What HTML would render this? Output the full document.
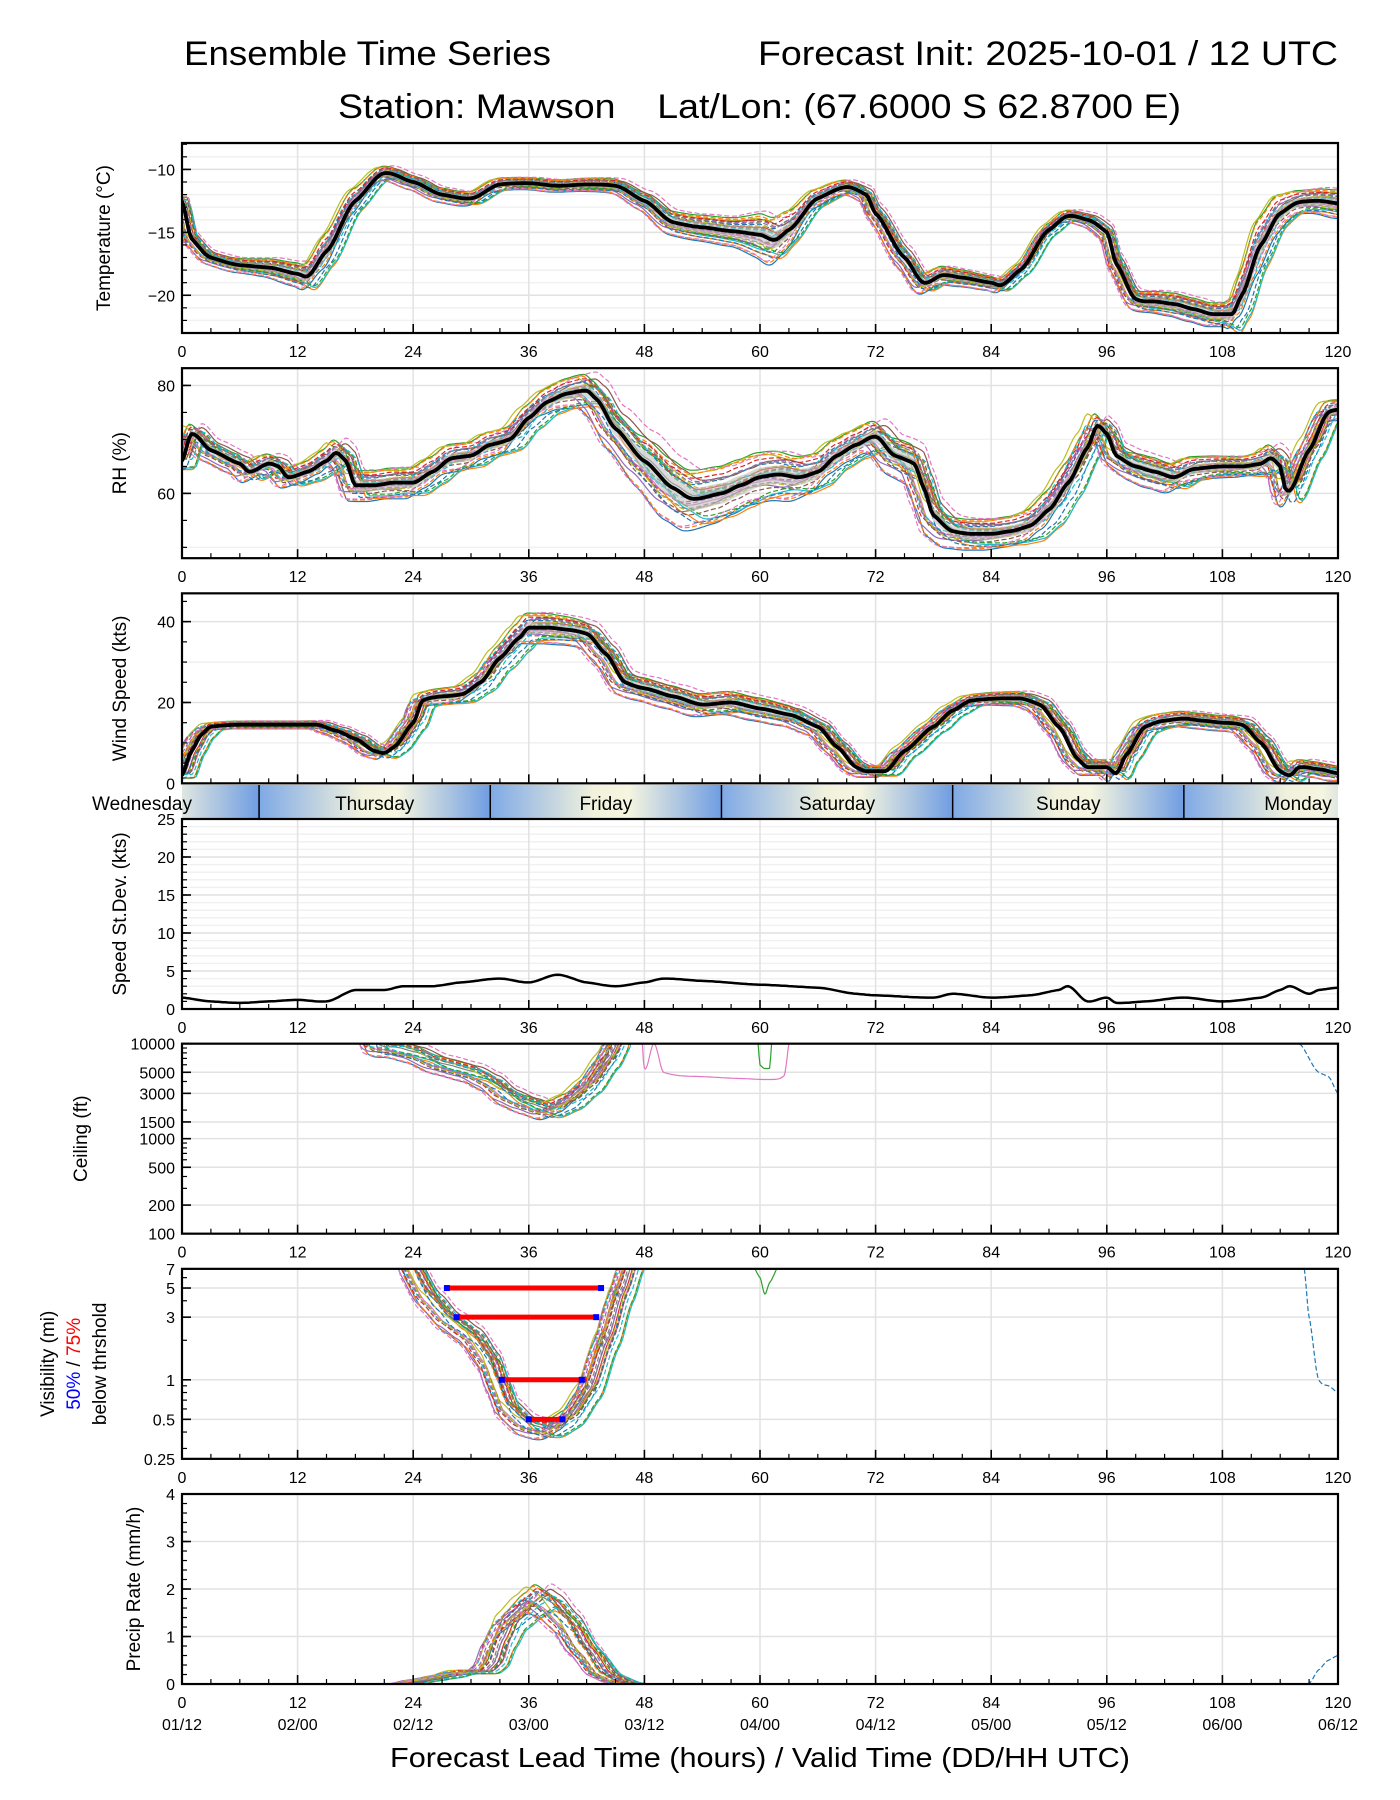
<!DOCTYPE html>
<html><head><meta charset="utf-8"><style>
html,body{margin:0;padding:0;background:#fff;}
svg{display:block;font-family:"Liberation Sans","DejaVu Sans",sans-serif;}
</style></head><body>
<svg id="c" width="1400" height="1800" viewBox="0 0 1400 1800">
<text x="184" y="65" font-size="34" textLength="367" lengthAdjust="spacingAndGlyphs">Ensemble Time Series</text>
<text x="1338" y="65" font-size="34" text-anchor="end" textLength="580" lengthAdjust="spacingAndGlyphs">Forecast Init: 2025-10-01 / 12 UTC</text>
<text x="338" y="118" font-size="34" textLength="843" lengthAdjust="spacingAndGlyphs" xml:space="preserve">Station: Mawson    Lat/Lon: (67.6000 S 62.8700 E)</text>
<text x="760" y="1767" font-size="28" text-anchor="middle" textLength="740" lengthAdjust="spacingAndGlyphs">Forecast Lead Time (hours) / Valid Time (DD/HH UTC)</text>
</svg>
<script>
// ---------------- data ----------------
const tempMean=[[0,-12.5],[1,-15.5],[3,-17],[6,-17.6],[9,-17.8],[12,-18.3],[13,-18.5],[15,-16.5],[18,-12.5],[21,-10.3],[24,-11],[27,-12],[30,-12.3],[33,-11.2],[36,-11.1],[39,-11.3],[42,-11.2],[45,-11.3],[48,-12.5],[51,-14.2],[54,-14.6],[57,-14.9],[60,-15.2],[61.5,-15.6],[63,-14.8],[66,-12.3],[69,-11.4],[71,-12],[72,-13.5],[75,-17],[77,-19],[79,-18.4],[81,-18.6],[84,-19],[85,-19.2],[87,-18],[90,-14.8],[92,-13.7],[94,-14],[96,-15],[97,-17.5],[99,-20.3],[101,-20.5],[103,-20.7],[105,-21.1],[107,-21.5],[109,-21.5],[110,-20],[112,-16],[114,-13.5],[116,-12.6],[118,-12.5],[120,-12.7]];
const tempSpread=[[0,0.5],[6,0.6],[12,1],[15,1.5],[21,0.6],[30,0.6],[36,0.5],[45,0.6],[51,1],[57,1.2],[61,2],[66,0.8],[70,0.6],[75,1],[78,0.8],[84,0.6],[92,0.5],[98,0.8],[104,1],[108,1],[111,2.5],[116,1],[120,1.2]];
const rhMean=[[0,66],[1,71],[3,68],[6,65.5],[7,64],[9,65.5],[10,65],[11,63],[13,64],[15,66],[16,67.5],[17,66],[18,61.5],[20,61.5],[22,62],[24,62],[26,64],[28,66.5],[30,67],[32,69],[34,70],[36,74],[38,77],[40,78.5],[42,79],[43,77.5],[45,72],[48,66],[51,61],[53,59],[56,60],[58,61.5],[60,63],[62,63.5],[64,63],[66,64],[68,67],[70,69],[72,70.5],[74,67],[76,65.5],[77,61],[78,56],[80,53],[82,52.5],[84,52.5],[86,53],[88,54],[90,57],[92,62],[94,68.5],[95,72.5],[96,71],[97,67],[99,65],[101,64],[103,63],[105,64.5],[108,65],[110,65],[112,65.5],[113,66.5],[114,65],[114.5,61],[115,60.5],[117,68],[119,75],[120,75.5]];
const rhSpread=[[0,2],[12,2],[18,3],[24,3],[36,2.5],[45,4],[50,6],[60,5],[70,3],[76,4],[80,3],[86,3],[92,4],[96,2],[100,3],[110,2],[114,3],[120,2]];
const windMean=[[0,2],[1,8],[2,12],[3,14],[6,14.5],[9,14.5],[12,14.5],[14,14.5],[16,13],[18,11],[20,8],[21,7.5],[22,9],[24,15],[25,20.5],[27,21.5],[29,22],[31,25],[33,31],[35,36],[36,38.5],[38,38.5],[40,38],[42,37],[44,32],[46,25],[48,23.5],[51,21.5],[54,19.5],[57,20],[60,18.5],[63,17],[66,14],[68,9],[70,4],[71,3],[73,3],[75,8],[78,14],[80,18],[82,20.5],[85,21],[87,21],[89,19.5],[91,14],[93,6],[94,4],[96,4],[97,2.5],[98,7],[100,14],[102,15.5],[104,16],[106,15.5],[108,15],[110,14.5],[112,10],[114,3],[115,2],[116,4],[118,3.5],[120,2.5]];
const windSpread=[[0,1],[12,1],[20,1.5],[30,2.5],[36,4],[45,3],[50,3],[60,3],[70,1.5],[80,1.5],[90,2],[96,2],[100,2],[110,2],[114,2],[120,2]];
const stdMean=[[0,1.5],[3,1],[6,0.8],[9,1],[12,1.2],[15,1],[18,2.5],[21,2.5],[23,3],[26,3],[29,3.5],[33,4],[36,3.5],[39,4.5],[42,3.5],[45,3],[48,3.5],[50,4],[54,3.7],[60,3.2],[66,2.8],[70,2],[72,1.8],[78,1.5],[80,2],[84,1.5],[88,1.8],[91,2.5],[92,3],[94,1],[96,1.5],[97,0.8],[100,1],[104,1.5],[108,1],[112,1.5],[114,2.5],[115,3],[117,2],[118,2.5],[120,2.8]];
const ceilMean=[[0,30000],[19,30000],[20,10000],[22,9000],[24,8000],[27,6000],[30,5000],[32,4000],[34,2800],[36,2300],[38,2000],[40,2400],[42,3500],[44,6500],[45,10000],[46,30000],[120,30000]];
const ceilPink=[[47.5,30000],[48,5500],[49,10000],[50,5000],[54,4500],[58,4300],[61,4200],[62.5,4600],[63,10000],[63.2,30000]];
const ceilGreen=[[59.5,30000],[59.8,10000],[60,6000],[61,5500],[61.2,10000],[61.5,30000]];
const ceilBlue=[[116,10000],[118,5000],[119,4500],[120,3000]];
const visMean=[[0,20],[23,20],[24,7],[26,4],[28,2.8],[30,2.2],[32,1.4],[33,0.9],[34,0.6],[36,0.45],[38,0.42],[40,0.5],[42,0.8],[44,2],[45.5,4.5],[46.5,7.5],[47.5,20],[120,20]];
const visGreen=[[59,8],[60,6],[60.5,4.5],[61,5.5],[62,7.5]];
const visBlue=[[116.5,7],[117,3],[118,1],[119,0.9],[120,0.8]];
const thrVals=[5,3,1,0.5];
const thrStart75=[27.5,28.5,33,36];
const thrEnd75=[43.5,43,42,39.5];
const thrStart50=[27.5,28.5,33.2,36];
const thrEnd50=[43.5,43,41.5,39.5];
const precipMean=[[0,0],[23,0],[25,0.08],[27,0.15],[29,0.25],[31,0.25],[32,0.4],[33,0.9],[34,1.3],[36,1.65],[37,1.8],[38,1.7],[40,1.3],[42,0.7],[44,0.2],[46,0.02],[47,0],[120,0]];
const precipBlue=[[116,0],[117,0.02],[118,0.3],[119,0.5],[120,0.6]];
const memberW=[-1,-0.8,0.9,0.3,-0.4,0.6,-0.2,0.1,0.75,-0.65,0.45,-0.9,0.2,-0.1,0.55,-0.5,0.95,-0.3,0.35,0.05,-0.75,0.8,-0.55,0.65,-0.15,0.25,-0.85,0.5,-0.35,0.15];
const memberShift=[0.8,-1.2,0.3,-0.5,1.4,-0.9,0.6,-0.2,1.0,-1.4,0.2,0.9,-0.7,1.2,-0.3,0.5,-1.0,0.7,-0.6,1.1,-0.4,0.4,-1.3,0.1,0.9,-0.8,1.3,-0.1,0.6,-1.1];
const xTicks=[0,12,24,36,48,60,72,84,96,108,120];
const dateLabels=["01/12","02/00","02/12","03/00","03/12","04/00","04/12","05/00","05/12","06/00","06/12"];
const dayNames=["Wednesday","Thursday","Friday","Saturday","Sunday","Monday"];
const dayBounds=[-16,8,32,56,80,104,128];
// ---------------- helpers ----------------
const NS="http://www.w3.org/2000/svg";
const svg=document.getElementById('c');
const colors=["#1f77b4","#ff7f0e","#2ca02c","#d62728","#9467bd","#8c564b","#e377c2","#7f7f7f","#bcbd22","#17becf"];
const X0=182,X1=1338,PH=190;
function xS(h){return X0+h*(X1-X0)/120;}
function mk(tag,attrs,parent){const e=document.createElementNS(NS,tag);for(const k in attrs)e.setAttribute(k,attrs[k]);(parent||svg).appendChild(e);return e;}
function interp(pts,t,log){
  if(t<=pts[0][0])return pts[0][1];
  if(t>=pts[pts.length-1][0])return pts[pts.length-1][1];
  let i=0;while(pts[i+1][0]<t)i++;
  const f=log?(v=>Math.log10(v)):(v=>v);
  const g=log?(v=>Math.pow(10,v)):(v=>v);
  const p0=pts[Math.max(i-1,0)],p1=pts[i],p2=pts[i+1],p3=pts[Math.min(i+2,pts.length-1)];
  const u=(t-p1[0])/(p2[0]-p1[0]);
  const y1=f(p1[1]),y2=f(p2[1]);
  const m1=(f(p2[1])-f(p0[1]))/((p2[0]-p0[0])||1)*(p2[0]-p1[0]);
  const m2=(f(p3[1])-f(p1[1]))/((p3[0]-p1[0])||1)*(p2[0]-p1[0]);
  const u2=u*u,u3=u2*u;
  let v=(2*u3-3*u2+1)*y1+(u3-2*u2+u)*m1*0.5+(-2*u3+3*u2)*y2+(u3-u2)*m2*0.5;
  const lo=Math.min(y1,y2),hi=Math.max(y1,y2);v=Math.max(lo-0.05*(hi-lo+1e-9),Math.min(hi+0.05*(hi-lo+1e-9),v));
  return g(v);
}
function panel(i,name){
  const top=143+i*225.17;return {top,bot:top+PH,name};
}
function setup(p,yMin,yMax,log,major,minor,gridMinor,labels,showX){
  const g=mk('g',{});
  
  
  const tf=v=>log?Math.log10(v):v;
  p.y=v=>p.bot-(tf(v)-tf(yMin))/(tf(yMax)-tf(yMin))*PH;
  const cid='clip-'+p.name;
  const cp=mk('clipPath',{id:cid},g);mk('rect',{x:X0,y:p.top,width:X1-X0,height:PH},cp);
  (gridMinor||[]).forEach(v=>mk('line',{x1:X0,x2:X1,y1:p.y(v),y2:p.y(v),stroke:'#f1f1f1','stroke-width':1.5},g));
  xTicks.forEach(h=>mk('line',{x1:xS(h),x2:xS(h),y1:p.top,y2:p.bot,stroke:'#e2e2e2','stroke-width':1.5},g));
  major.forEach(v=>mk('line',{x1:X0,x2:X1,y1:p.y(v),y2:p.y(v),stroke:'#e2e2e2','stroke-width':1.5},g));
  p.g=mk('g',{'clip-path':'url(#'+cid+')'},g);
  p.axis=g;
  p.finish=function(){
    const a=mk('g',{},g);
    
    
    for(let h=0;h<=120;h+=3){const mj=h%12===0;mk('line',{x1:xS(h),x2:xS(h),y1:p.bot,y2:p.bot-(mj?9:5),stroke:'#000','stroke-width':mj?1.6:1.2},a);}
    (minor||[]).forEach(v=>mk('line',{x1:X0,x2:X0+5,y1:p.y(v),y2:p.y(v),stroke:'#000','stroke-width':1.2},a));
    major.forEach((v,k)=>{mk('line',{x1:X0,x2:X0+9,y1:p.y(v),y2:p.y(v),stroke:'#000','stroke-width':1.6},a);
      const t=mk('text',{x:X0-7,y:p.y(v)+6,'font-size':16,'text-anchor':'end'},a);t.textContent=labels?labels[k]:(v<0?'\u2212'+(-v):String(v));
      
      });
    mk('rect',{x:X0,y:p.top,width:X1-X0,height:PH,fill:'none',stroke:'#000','stroke-width':2.2},a);
    if(showX)xTicks.forEach(h=>{const t=mk('text',{x:xS(h),y:p.bot+24,'font-size':16,'text-anchor':'middle'},a);t.textContent=h;
      
      });
  };
}
function ylabel(p,x,txt,name){
  const t=mk('text',{x:x,y:(p.top+p.bot)/2,'font-size':19,'text-anchor':'middle',transform:`rotate(-90 ${x} ${(p.top+p.bot)/2})`});
  t.textContent=txt;
  
  
  return t;
}
function pathFrom(p,fn,t0,t1,step){
  let d='';for(let t=t0;t<=t1+1e-9;t+=step){const v=fn(t);d+=(d?'L':'M')+xS(t).toFixed(1)+','+p.y(v).toFixed(1);}return d;
}
function members(p,valFn,t0,t1){
  memberW.forEach((w,m)=>{
    const e=mk('path',{d:pathFrom(p,t=>valFn(t,w,memberShift[m]),t0,t1,0.25),fill:'none',stroke:colors[m%10],'stroke-width':1.2,'stroke-dasharray':m>=10?'5,2.5':'none'},p.g);
    
    
  });
}
function meanAndBand(p,mean,spread){
  let up='',dn=[];
  for(let t=0;t<=120;t+=0.5){const v=interp(mean,t),s=interp(spread,t)*0.35;up+=(up?'L':'M')+xS(t).toFixed(1)+','+p.y(v+s).toFixed(1);dn.push(xS(t).toFixed(1)+','+p.y(v-s).toFixed(1));}
  const b=mk('path',{d:up+'L'+dn.reverse().join('L')+'Z',fill:'#bbbbbb','fill-opacity':0.55,stroke:'none'},p.g);
  
  
  const l=mk('path',{d:pathFrom(p,t=>interp(mean,t),0,120,0.25),fill:'none',stroke:'#000','stroke-width':3.8,'stroke-linejoin':'round'},p.g);
  
  
}
function extra(p,pts,color,dash,log,name){
  const e=mk('path',{d:pathFrom(p,t=>interp(pts,t,log),pts[0][0],pts[pts.length-1][0],0.1),fill:'none',stroke:color,'stroke-width':1.2,'stroke-dasharray':dash?'5,2.5':'none'},p.g);
  
  
}
function range(a,b,s){const r=[];for(let v=a;v<=b+1e-9;v+=s)r.push(+v.toFixed(3));return r;}
// ---------------- temperature ----------------
const pT=panel(0,'temperature');
setup(pT,-23,-7.9,false,[-10,-15,-20],range(-23,-8,1),range(-23,-8,1),null,true);
members(pT,(t,w,s)=>interp(tempMean,t+s*0.6)+w*interp(tempSpread,t),0,120);
meanAndBand(pT,tempMean,tempSpread);pT.finish();
ylabel(pT,110,'Temperature (°C)','temperature-y-axis-title');
// ---------------- RH ----------------
const pR=panel(1,'rh');
setup(pR,48,83.2,false,[60,80],range(50,80,5),[50,70],null,true);
members(pR,(t,w,s)=>interp(rhMean,t+s)+w*interp(rhSpread,t),0,120);
meanAndBand(pR,rhMean,rhSpread);pR.finish();
ylabel(pR,126,'RH (%)','rh-y-axis-title');
// ---------------- wind ----------------
const pW=panel(2,'wind');
setup(pW,0,47,false,[0,20,40],range(0,45,5),[10,30],null,false);
members(pW,(t,w,s)=>Math.max(0,interp(windMean,t+s)+w*interp(windSpread,t)),0,120);
meanAndBand(pW,windMean,windSpread);pW.finish();
ylabel(pW,126,'Wind Speed (kts)','wind-y-axis-title');
// ---------------- day band ----------------
(function(){
  const g=mk('g',{});
  
  
  const defs=mk('defs',{},g);
  const lg=mk('linearGradient',{id:'dayg',x1:0,x2:1,y1:0,y2:0},defs);
  [[0,'#7fa9e6'],[0.45,'#f2f2dc'],[0.6,'#f5f5e0'],[1,'#6f9de2']].forEach(s=>mk('stop',{offset:s[0],'stop-color':s[1]},lg));
  const cp=mk('clipPath',{id:'bandclip'},g);mk('rect',{x:X0,y:785,width:X1-X0,height:34},cp);
  const inner=mk('g',{'clip-path':'url(#bandclip)'},g);
  for(let d=0;d<dayNames.length;d++){
    mk('rect',{x:xS(dayBounds[d]),y:785,width:xS(dayBounds[d+1])-xS(dayBounds[d]),height:34,fill:'url(#dayg)'},inner);
    if(d>0)mk('line',{x1:xS(dayBounds[d]),x2:xS(dayBounds[d]),y1:785,y2:819,stroke:'#000','stroke-width':1.5},inner);
  }
  for(let d=0;d<dayNames.length;d++){
    const cx=d===0?142:(d===5?1298:xS((dayBounds[d]+dayBounds[d+1])/2));
    const t=mk('text',{x:cx,y:810,'font-size':19,'text-anchor':'middle'},g);t.textContent=dayNames[d];
    
    
  }
})();
// ---------------- std dev ----------------
const pS=panel(3,'speed-stdev');pS.top=819;pS.bot=1009;
setup(pS,0,25,false,[0,5,10,15,20,25],range(0,25,1),range(0,25,1),null,true);
(function(){const l=mk('path',{d:pathFrom(pS,t=>interp(stdMean,t),0,120,0.25),fill:'none',stroke:'#000','stroke-width':2.5},pS.g);

})();
pS.finish();
ylabel(pS,126,'Speed St.Dev. (kts)','stdev-y-axis-title');
// ---------------- ceiling ----------------
const pC=panel(4,'ceiling');
setup(pC,100,10000,true,[100,200,500,1000,1500,3000,5000,10000],[300,400,600,700,800,900,2000,4000,6000,7000,8000,9000],null,null,true);
members(pC,(t,w,s)=>Math.pow(10,Math.log10(interp(ceilMean,t+s,true))+w*0.1),0,120);
extra(pC,ceilPink,'#e377c2',false,true,'ceiling-outlier-pink');
extra(pC,ceilGreen,'#2ca02c',false,true,'ceiling-outlier-green');
extra(pC,ceilBlue,'#1f77b4',true,true,'ceiling-outlier-blue');
pC.finish();
ylabel(pC,87,'Ceiling (ft)','ceiling-y-axis-title');
// ---------------- visibility ----------------
const pV=panel(5,'visibility');
setup(pV,0.25,7,true,[0.25,0.5,1,3,5,7],[0.3,0.4,0.6,0.7,0.8,0.9,2,4,6],null,['0.25','0.5','1','3','5','7'],true);
members(pV,(t,w,s)=>Math.pow(10,Math.log10(interp(visMean,t+s,true))+w*0.08),0,120);
extra(pV,visGreen,'#2ca02c',false,true,'visibility-outlier-green');
extra(pV,visBlue,'#1f77b4',true,true,'visibility-outlier-blue');
thrVals.forEach((v,k)=>{
  const y=pV.y(v);
  const r=mk('line',{x1:xS(thrStart75[k]),x2:xS(thrEnd75[k]),y1:y,y2:y,stroke:'#ff0000','stroke-width':5},pV.g);
  
  
  [thrStart50[k],thrEnd50[k]].forEach(h=>{const d=mk('rect',{x:xS(h)-3,y:y-3,width:6,height:6,fill:'#0000ff'},pV.g);
    
    });
});
pV.finish();
(function(){
  const cy=(pV.top+pV.bot)/2;
  ylabel(pV,54,'Visibility (mi)','visibility-y-axis-title');
  const t2=mk('text',{x:80,y:cy,'font-size':19,'text-anchor':'middle',transform:`rotate(-90 80 ${cy})`});
  t2.innerHTML='<tspan fill="#0000ff">50%</tspan> / <tspan fill="#ff0000">75%</tspan>';
  
  
  const t3=mk('text',{x:106,y:cy,'font-size':19,'text-anchor':'middle',transform:`rotate(-90 106 ${cy})`});
  t3.textContent='below thrshold';
  
  
})();
// ---------------- precip ----------------
const pP=panel(6,'precip');
setup(pP,0,4,false,[0,1,2,3,4],range(0,4,0.2),null,null,true);
members(pP,(t,w,s)=>Math.max(0,interp(precipMean,t+s*1.3)*(1+w*0.18)),0,120);
extra(pP,precipBlue,'#1f77b4',true,false,'precip-outlier-blue');
pP.finish();
ylabel(pP,140,'Precip Rate (mm/h)','precip-y-axis-title');
xTicks.forEach((h,k)=>{const t=mk('text',{x:xS(h),y:1730,'font-size':16,'text-anchor':'middle'});t.textContent=dateLabels[k];
  
  });
</script>
</body></html>
